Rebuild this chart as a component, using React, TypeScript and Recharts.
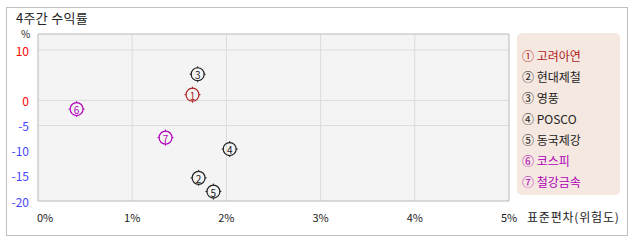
import React from 'react';
import { ScatterChart, Scatter, XAxis, YAxis, CartesianGrid, ReferenceArea } from 'recharts';

const names = ['고려아연', '현대제철', '영풍', 'POSCO', '동국제강', '코스피', '철강금속'];
const marks = ['①', '②', '③', '④', '⑤', '⑥', '⑦'];
const riskX = [1.64, 1.705, 1.695, 2.035, 1.862, 0.41, 1.354];
const returnY = [1.13, -15.4, 5.2, -9.67, -18.13, -1.73, -7.4];
const xTicks = [0, 1, 2, 3, 4, 5];
const yTicks = [10, 0, -5, -10, -15, -20];
const yGrid = [10, 0, -5];
const xGrid = [1, 2, 3, 4];
const title = '4주간 수익률';
const xTitle = '표준편차(위험도)';
const yUnit = '%';

const colors = ['#b02020', '#222222', '#222222', '#222222', '#222222', '#b000b8', '#b000b8'];
const FONT = '"Noto Sans CJK KR", "Noto Sans", sans-serif';

const data = names.map((n, i) => ({ name: n, x: riskX[i], y: returnY[i], idx: i }));

const Marker = (props: any) => {
  const { cx, cy, payload } = props;
  const c = colors[payload.idx];
  const r = 6.5;
  return (
    <g>
      <circle cx={cx} cy={cy} r={r} fill="none" stroke={c} strokeWidth={1.2} />
      <line x1={cx} y1={cy - r - 1.5} x2={cx} y2={cy - r + 0.5} stroke={c} strokeWidth={1} />
      <line x1={cx} y1={cy + r - 0.5} x2={cx} y2={cy + r + 1.5} stroke={c} strokeWidth={1} />
      <line x1={cx - r - 1.5} y1={cy} x2={cx - r + 0.5} y2={cy} stroke={c} strokeWidth={1} />
      <line x1={cx + r - 0.5} y1={cy} x2={cx + r + 1.5} y2={cy} stroke={c} strokeWidth={1} />
      <text x={cx} y={cy + 0.5} textAnchor="middle" dominantBaseline="central" fontSize={10} fill={c} fontFamily={FONT}>
        {String(payload.idx + 1)}
      </text>
    </g>
  );
};

const XTick = (props: any) => {
  const { x, y, payload } = props;
  const v = payload.value;
  const anchor = v === 0 ? 'start' : 'middle';
  return (
    <text x={v === 0 ? x - 1 : x} y={y + 8} textAnchor={anchor} dominantBaseline="central" fontSize={11} fill="#222" fontFamily={FONT}>
      {v + '%'}
    </text>
  );
};

const YTick = (props: any) => {
  const { x, y, payload } = props;
  const v = payload.value;
  return (
    <text x={x - 1} y={y} textAnchor="end" dominantBaseline="central" fontSize={12} fill={v >= 0 ? '#ff0000' : '#4646ff'} fontFamily={FONT}>
      {String(v)}
    </text>
  );
};

const LegendBox = () => (
  <div
    style={{
      position: 'absolute',
      left: 517,
      top: 33,
      background: '#f5e8e0',
      borderRadius: 5,
      width: 103,
      height: 162,
      boxSizing: 'border-box',
      padding: '12px 0 0 5px',
      fontFamily: FONT,
      fontSize: 12,
    }}
  >
    {names.map((n, i) => (
      <div key={n} style={{ color: colors[i], height: 21, lineHeight: '21px', whiteSpace: 'nowrap' }}>
        {marks[i]} {n}
      </div>
    ))}
  </div>
);

export default function App() {
  return (
    <div style={{ position: 'absolute', left: 0, top: 0, width: 638, height: 242, background: '#fff', fontFamily: FONT }}>
      <div style={{ position: 'absolute', left: 6, top: 7, width: 620, height: 227, border: '1px solid #c0c0c0' }} />
      <div style={{ position: 'absolute', left: 16, top: 10, fontSize: 13, color: '#222', lineHeight: '16px', letterSpacing: 0.3 }}>{title}</div>
      <div style={{ position: 'absolute', left: 21, top: 28, fontSize: 10, color: '#222', lineHeight: '11px' }}>{yUnit}</div>
      <div style={{ position: 'absolute', left: 527, top: 208, fontSize: 12, color: '#222', lineHeight: '18px', letterSpacing: 0.8 }}>{xTitle}</div>
      <LegendBox />
      <div style={{ position: 'absolute', left: 0, top: 0 }}>
        <ScatterChart width={638} height={242} margin={{ top: 34, right: 129, bottom: 0, left: 0 }}>
          <CartesianGrid
            fill="#f4f4f4"
            stroke="#dcdcdc"
            horizontalValues={yGrid}
            verticalValues={xGrid}
          />
          <XAxis
            type="number"
            dataKey="x"
            domain={[0, 5]}
            ticks={xTicks}
            tick={<XTick />}
            axisLine={false}
            tickLine={false}
            height={41}
            interval={0}
          />
          <YAxis
            type="number"
            dataKey="y"
            domain={[-20, 13.2]}
            ticks={yTicks}
            tick={<YTick />}
            axisLine={false}
            tickLine={false}
            width={38}
            interval={0}
          />
          <ReferenceArea x1={0} x2={5} y1={-20} y2={13.2} fill="none" stroke="#b8b8b8" strokeWidth={1} ifOverflow="visible" />
          <Scatter data={data} shape={<Marker />} isAnimationActive={false} />
        </ScatterChart>
      </div>
    </div>
  );
}
